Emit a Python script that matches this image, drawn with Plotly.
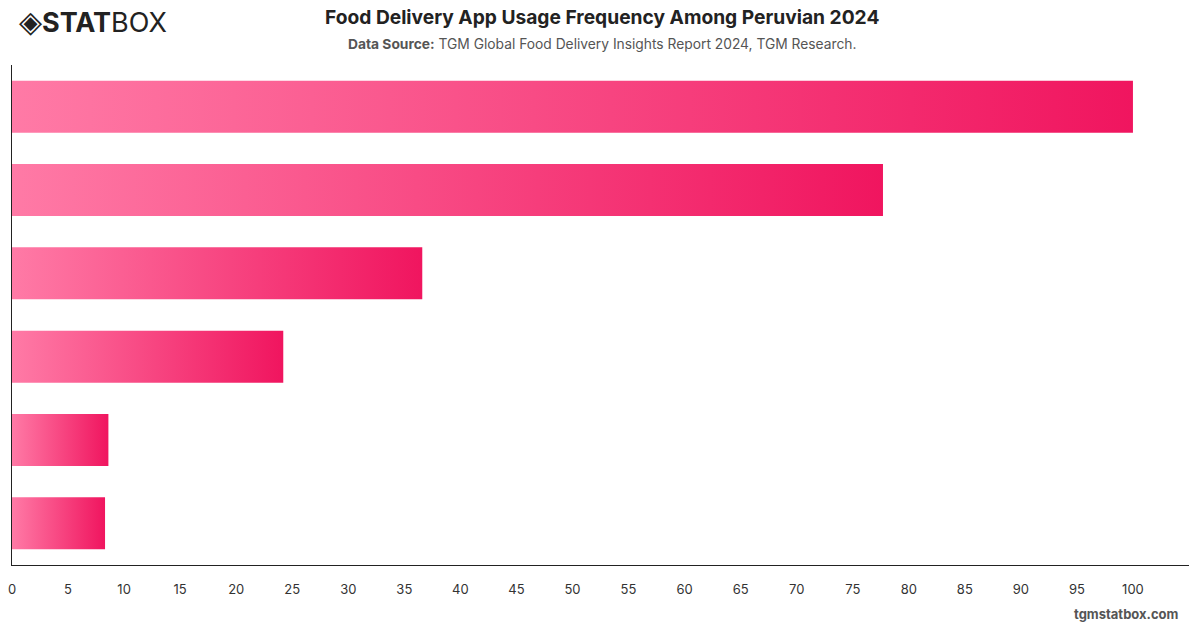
import plotly.graph_objects as go

categories = ["Several times a week", "Once a week", "A few times a month",
              "Once a month", "Less than once a month", "Rarely"]
values = [100, 77.7, 36.6, 24.2, 8.6, 8.3]
x_ticks = list(range(0, 101, 5))

BAR_HALF = 0.312
LIGHT = "#ff7aa6"
DEEP = "#f0155f"

fig = go.Figure()
for i, (cat, v) in enumerate(zip(categories, values)):
    fig.add_trace(go.Scatter(
        x=[0, v, v, 0, 0],
        y=[i - BAR_HALF, i - BAR_HALF, i + BAR_HALF, i + BAR_HALF, i - BAR_HALF],
        mode="lines", line=dict(width=0),
        fill="toself",
        fillgradient=dict(type="horizontal",
                          colorscale=[[0, LIGHT], [1, DEEP]]),
        name=cat, hoverinfo="skip", showlegend=False,
    ))

L, R, T, B = 8, 11, 65, 63
fig.update_layout(
    width=1200, height=628,
    margin=dict(l=L, r=R, t=T, b=B),
    paper_bgcolor="white", plot_bgcolor="white",
    font=dict(family="Inter, Roboto, sans-serif", color="#333"),
    xaxis=dict(range=[0, 105.0], tickvals=x_ticks, showgrid=False, zeroline=False,
               showline=True, linecolor="#222", linewidth=1.2,
               ticks="outside", ticklen=12, tickcolor="rgba(0,0,0,0)",
               tickfont=dict(size=13, color="#333"), fixedrange=True),
    yaxis=dict(range=[5.5, -0.5], showticklabels=False, showgrid=False,
               zeroline=False, showline=True, linecolor="#222", linewidth=1.2,
               ticks="", fixedrange=True),
)

H_PLOT = 628 - T - B
W_PLOT = 1200 - L - R
def ypix(py):
    return (628 - B - py) / H_PLOT
def xpix(px):
    return (px - L) / W_PLOT

fig.add_annotation(text="<b>Food Delivery App Usage Frequency Among Peruvian 2024</b>",
                   x=xpix(600), y=ypix(17), xref="paper", yref="paper",
                   xanchor="center", yanchor="middle", showarrow=False,
                   font=dict(size=19.2, color="#222"))
fig.add_annotation(text="<b>Data Source:</b> TGM Global Food Delivery Insights Report 2024, TGM Research.",
                   x=xpix(600), y=ypix(44), xref="paper", yref="paper",
                   xanchor="center", yanchor="middle", showarrow=False,
                   font=dict(size=13.8, color="#555"))
fig.add_annotation(text="<b>tgmstatbox.com</b>", x=xpix(1181), y=ypix(614),
                   xref="paper", yref="paper", xanchor="right", yanchor="middle",
                   showarrow=False, font=dict(size=13, color="#555"))
fig.add_annotation(text="<span style='font-size:30px'>◈</span><b>STAT</b>BOX",
                   x=xpix(13), y=ypix(21), xref="paper", yref="paper",
                   xanchor="left", yanchor="middle", showarrow=False,
                   font=dict(size=27, color="#222"))

fig.write_html("out.html")
